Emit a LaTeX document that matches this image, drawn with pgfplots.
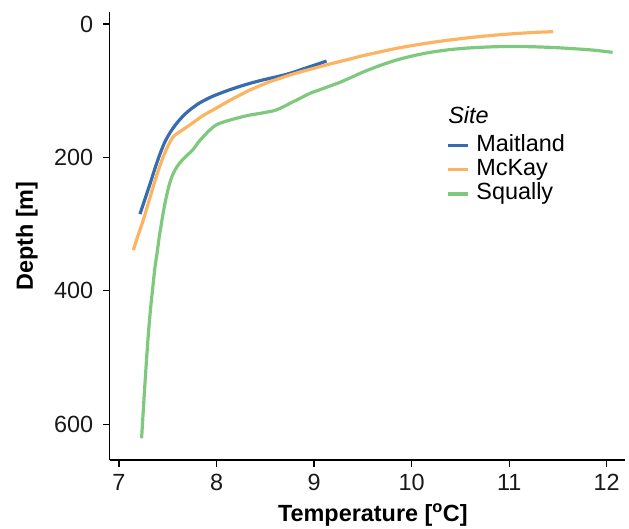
\documentclass[border=0pt]{standalone}
\usepackage{fontspec}
\setmainfont{Liberation Sans}
\usepackage{pgfplots}
\pgfplotsset{compat=1.18}
\definecolor{cBlue}{HTML}{386CB0}
\definecolor{cOrange}{HTML}{FDB462}
\definecolor{cGreen}{HTML}{7FC97F}
\newcommand{\bigfont}{\fontsize{23.5}{28}\selectfont}
\begin{document}
\begin{tikzpicture}
\begin{axis}[
  name=ax,
  scale only axis,
  width=515bp, height=448bp,
  xmin=6.905, xmax=12.184,
  ymin=-18, ymax=653.6,
  y dir=reverse,
  axis lines*=left,
  axis line style={line width=1.2bp, black},
  every tick/.style={line width=1.2bp, black},
  tick align=outside,
  major tick length=7bp,
  xtick={7,8,9,10,11,12},
  ytick={0,200,400,600},
  /pgf/number format/assume math mode=true,
  tick label style={font=\bigfont, text=black!90},
  xticklabel style={yshift=-4bp},
  yticklabel style={xshift=-6bp},
  xlabel={\textbf{Temperature [\textsuperscript{o}C]}},
  ylabel={\textbf{Depth [m]}},
  every axis x label/.style={at={(rel axis cs:0.511,0)}, anchor=base, yshift=-61bp, font=\bigfont},
  every axis y label/.style={at={(rel axis cs:0,0.5)}, xshift=-83bp, rotate=90, anchor=center, font=\bigfont},
  legend style={at={(rel axis cs:0.653,0.648)}, anchor=west, draw=none, fill=none,
    inner sep=0pt, row sep=2.3bp, column sep=0bp,
    font=\bigfont,
    nodes={inner xsep=0pt, inner ysep=0pt, text height=17bp, text depth=5bp}},
  legend cell align=left,
  legend image code/.code={\draw[#1] (0bp,0bp) -- (20bp,0bp); \path (27bp,0bp);},
  clip=false,
]
\addplot[cBlue, line width=3.2bp, smooth] coordinates {
(7.215,285) (7.27,261) (7.32,239) (7.37,216) (7.42,195) (7.47,177) (7.523,163)
(7.575,152) (7.625,143) (7.70,132) (7.761,125) (7.83,118) (7.95,109) (8.035,104)
(8.137,98.5) (8.24,93.5) (8.342,89) (8.445,85) (8.547,81.4) (8.65,78) (8.752,74)
(8.855,69) (8.957,64) (9.05,59.5) (9.128,55.5)
};
\addlegendentry{Maitland}
\addplot[cOrange, line width=3.2bp, smooth] coordinates {
(7.147,339) (7.198,316) (7.249,294) (7.30,269) (7.351,244) (7.40,221) (7.454,199)
(7.505,182) (7.556,169) (7.61,163) (7.659,158) (7.73,151) (7.796,144) (7.864,137)
(7.95,130) (8.035,123) (8.137,114.5) (8.24,106.5) (8.342,99) (8.445,92.5)
(8.547,86.5) (8.65,81.5) (8.752,76.5) (8.855,72) (8.957,68) (9.06,64) (9.162,60)
(9.367,52.5) (9.503,47.5) (9.845,36.5) (10.19,28) (10.53,21.5) (10.87,16.5)
(11.21,13) (11.45,11.5)
};
\addlegendentry{McKay}
\addplot[cGreen, line width=3.2bp, smooth] coordinates {
(7.232,621) (7.249,580) (7.266,540) (7.284,500) (7.304,460) (7.325,425) (7.343,400)
(7.368,366) (7.39,344) (7.412,320) (7.432,302) (7.45,286) (7.47,270) (7.50,250)
(7.53,234) (7.57,220) (7.625,208) (7.69,198) (7.761,188) (7.81,178)
(7.864,169) (7.93,159) (8.0,151) (8.07,147) (8.137,144) (8.24,140) (8.342,136.5)
(8.445,134) (8.52,132) (8.6,129.5) (8.68,124.5) (8.752,119) (8.855,111.5) (8.957,104)
(9.06,98.5) (9.162,93) (9.264,87.5) (9.367,81) (9.503,72) (9.67,62.5) (9.845,54)
(10.02,47.5) (10.19,42.5) (10.36,39) (10.53,36.5) (10.7,35) (10.87,34) (11.04,33.7)
(11.21,34) (11.38,34.8) (11.55,36) (11.85,39) (12.06,42.5)
};
\addlegendentry{Squally}
\node[anchor=base west, font=\bigfont\itshape, inner sep=0pt] at (rel axis cs:0.657,0.75) {Site};
\end{axis}
\pgfresetboundingbox
\path (ax.south west) ++(-109.7bp,-69bp) rectangle ++(629bp,529bp);
\end{tikzpicture}
\end{document}
